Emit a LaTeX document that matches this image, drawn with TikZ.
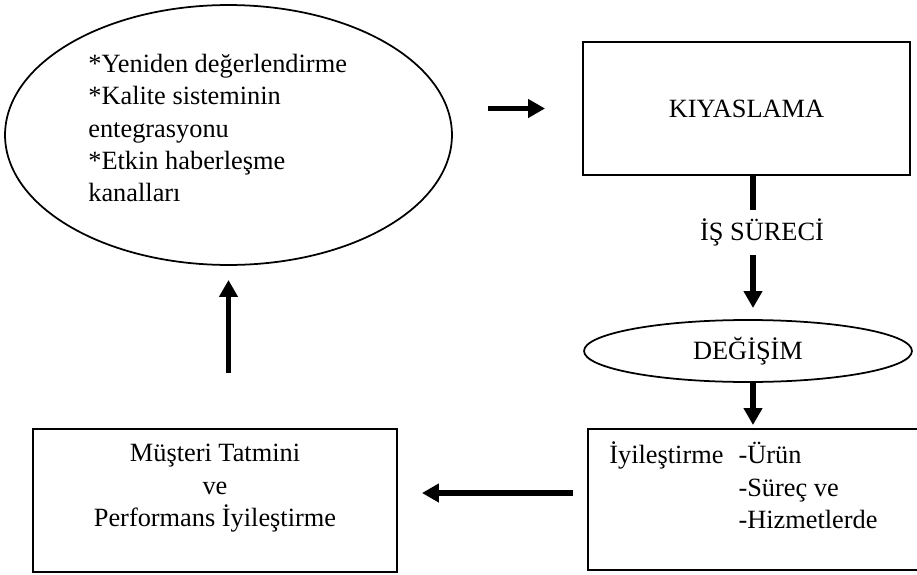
\documentclass[tikz,border=0pt]{standalone}
\usepackage{fontspec}
\setmainfont{Liberation Serif}
\usepackage{tikz}
\usetikzlibrary{arrows.meta,positioning,shapes.geometric}
\tikzset{
  kutu/.style={draw,line width=1pt,inner sep=0pt,outer sep=0pt},
  elips/.style={ellipse,draw,line width=1pt,inner sep=0pt,outer sep=0pt},
  metin/.style={font=\fontsize{15}{18.4}\selectfont,inner sep=0pt},
  okln/.style={-{Triangle[length=0.34cm,width=0.36cm]},line width=3.2pt},
  dikln/.style={line width=3.2pt},
}

\begin{document}
\begin{tikzpicture}[x=0.02cm,y=-0.02cm]
        \useasboundingbox (0,0) rectangle (917,575);
        % shakllar
        \node[elips,minimum width=8.94cm,minimum height=5.2cm] (elps) at (228.5,135) {};
        \node[metin,align=left,anchor=north west] (elpsyazi) at (88,54)
          {*Yeniden değerlendirme\\*Kalite sisteminin\\entegrasyonu\\*Etkin haberleşme\\kanalları};
        \node[kutu,metin,minimum width=6.54cm,minimum height=2.66cm] (kiyas) at (746.5,108.5) {KIYASLAMA};
        \node[metin,minimum height=0.9cm] (surec) at (762,232.5) {İŞ SÜRECİ};
        \node[elips,metin,minimum width=6.56cm,minimum height=1.24cm] (degisim) at (748,351) {DEĞİŞİM};
        \node[kutu,minimum width=6.6cm,minimum height=2.82cm] (rbox) at (753,499.5) {};
        \node[metin,anchor=north west] (rboxyazi) at (609,441)
          {\begin{tabular}{@{}l@{\hspace{0.3cm}}l@{}}İyileştirme & -Ürün\\ & -Süreç ve\\ & -Hizmetlerde\end{tabular}};
        \node[kutu,minimum width=7.28cm,minimum height=2.86cm] (lbox) at (215,500.5) {};
        \node[metin,align=center,anchor=north] (lboxyazi) at (215,444)
          {Müşteri Tatmini\\ve\\Performans İyileştirme};
        % strelkalar
        \coordinate (okust) at ([xshift=-0.18cm]surec.north);
        \coordinate (okalt) at ([xshift=-0.18cm]surec.south);
        \coordinate (solok) at ([yshift=0.13cm]rbox.west);
        \draw[okln,shorten <=0.72cm,shorten >=0.76cm] (kiyas.west -| elps.east) -- (kiyas.west);
        \draw[dikln] (okust |- kiyas.south) -- (okust);
        \draw[okln,shorten >=0.24cm] (okalt) -- (okalt |- degisim.north);
        \draw[okln,shorten >=0.08cm] (okalt |- degisim.south) -- (okalt |- rbox.north);
        \draw[okln,shorten <=0.3cm,shorten >=0.5cm] (solok) -- (solok -| lbox.east);
        \draw[okln,shorten <=1.12cm,shorten >=0.3cm] (elps.south |- lbox.north) -- (elps.south);
      \end{tikzpicture}
\end{document}
